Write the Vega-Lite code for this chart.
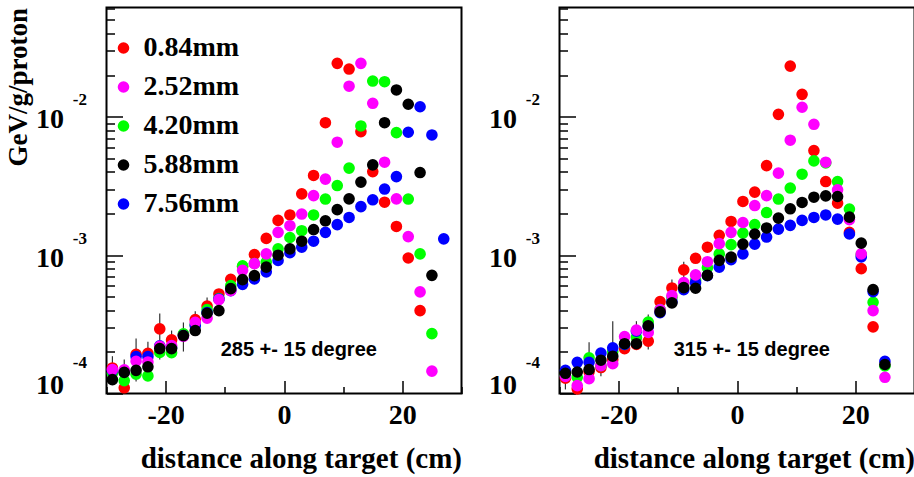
{
  "$schema": "https://vega.github.io/schema/vega-lite/v6.json",
  "background": "white",
  "padding": {"left": 2.5, "top": -3.5, "right": 0, "bottom": 0},
  "spacing": 24,
  "config": {
    "view": {"stroke": "black", "strokeWidth": 2},
    "font": "Liberation Serif"
  },
  "datasets": {
    "pts": [
      {"panel":"L","size":"0.84mm","x":-29,"y":1.53e-4},{"panel":"L","size":"0.84mm","x":-27,"y":1.10e-4},{"panel":"L","size":"0.84mm","x":-25,"y":1.92e-4},{"panel":"L","size":"0.84mm","x":-23,"y":1.95e-4},{"panel":"L","size":"0.84mm","x":-21,"y":2.93e-4},{"panel":"L","size":"0.84mm","x":-19,"y":2.44e-4},{"panel":"L","size":"0.84mm","x":-17,"y":2.67e-4},{"panel":"L","size":"0.84mm","x":-15,"y":3.42e-4},{"panel":"L","size":"0.84mm","x":-13,"y":4.28e-4},{"panel":"L","size":"0.84mm","x":-11,"y":5.24e-4},{"panel":"L","size":"0.84mm","x":-9,"y":6.68e-4},{"panel":"L","size":"0.84mm","x":-7,"y":8.25e-4},{"panel":"L","size":"0.84mm","x":-5,"y":1.01e-3},{"panel":"L","size":"0.84mm","x":-3,"y":1.32e-3},{"panel":"L","size":"0.84mm","x":-1,"y":1.78e-3},{"panel":"L","size":"0.84mm","x":1,"y":1.95e-3},{"panel":"L","size":"0.84mm","x":3,"y":2.77e-3},{"panel":"L","size":"0.84mm","x":5,"y":3.76e-3},{"panel":"L","size":"0.84mm","x":7,"y":9.05e-3},{"panel":"L","size":"0.84mm","x":9,"y":2.43e-2},{"panel":"L","size":"0.84mm","x":11,"y":2.21e-2},{"panel":"L","size":"0.84mm","x":13,"y":7.80e-3},{"panel":"L","size":"0.84mm","x":15,"y":4.01e-3},{"panel":"L","size":"0.84mm","x":17,"y":2.41e-3},{"panel":"L","size":"0.84mm","x":19,"y":1.61e-3},{"panel":"L","size":"0.84mm","x":21,"y":9.53e-4},{"panel":"L","size":"0.84mm","x":23,"y":3.97e-4},
      {"panel":"L","size":"4.20mm","x":-29,"y":1.40e-4},{"panel":"L","size":"4.20mm","x":-27,"y":1.24e-4},{"panel":"L","size":"4.20mm","x":-25,"y":1.38e-4},{"panel":"L","size":"4.20mm","x":-23,"y":1.34e-4},{"panel":"L","size":"4.20mm","x":-21,"y":1.98e-4},{"panel":"L","size":"4.20mm","x":-19,"y":1.97e-4},{"panel":"L","size":"4.20mm","x":-17,"y":2.70e-4},{"panel":"L","size":"4.20mm","x":-15,"y":3.15e-4},{"panel":"L","size":"4.20mm","x":-13,"y":4.04e-4},{"panel":"L","size":"4.20mm","x":-11,"y":4.85e-4},{"panel":"L","size":"4.20mm","x":-9,"y":6.02e-4},{"panel":"L","size":"4.20mm","x":-7,"y":8.35e-4},{"panel":"L","size":"4.20mm","x":-5,"y":8.70e-4},{"panel":"L","size":"4.20mm","x":-3,"y":8.90e-4},{"panel":"L","size":"4.20mm","x":-1,"y":1.11e-3},{"panel":"L","size":"4.20mm","x":1,"y":1.34e-3},{"panel":"L","size":"4.20mm","x":3,"y":1.50e-3},{"panel":"L","size":"4.20mm","x":5,"y":1.95e-3},{"panel":"L","size":"4.20mm","x":7,"y":2.54e-3},{"panel":"L","size":"4.20mm","x":9,"y":3.18e-3},{"panel":"L","size":"4.20mm","x":11,"y":4.25e-3},{"panel":"L","size":"4.20mm","x":13,"y":8.57e-3},{"panel":"L","size":"4.20mm","x":15,"y":1.81e-2},{"panel":"L","size":"4.20mm","x":17,"y":1.79e-2},{"panel":"L","size":"4.20mm","x":19,"y":7.67e-3},{"panel":"L","size":"4.20mm","x":21,"y":2.54e-3},{"panel":"L","size":"4.20mm","x":23,"y":1.02e-3},{"panel":"L","size":"4.20mm","x":25,"y":2.71e-4},
      {"panel":"L","size":"7.56mm","x":-29,"y":1.47e-4},{"panel":"L","size":"7.56mm","x":-27,"y":1.44e-4},{"panel":"L","size":"7.56mm","x":-25,"y":1.85e-4},{"panel":"L","size":"7.56mm","x":-23,"y":1.85e-4},{"panel":"L","size":"7.56mm","x":-21,"y":2.21e-4},{"panel":"L","size":"7.56mm","x":-19,"y":2.15e-4},{"panel":"L","size":"7.56mm","x":-17,"y":2.62e-4},{"panel":"L","size":"7.56mm","x":-15,"y":3.10e-4},{"panel":"L","size":"7.56mm","x":-13,"y":3.84e-4},{"panel":"L","size":"7.56mm","x":-11,"y":4.82e-4},{"panel":"L","size":"7.56mm","x":-9,"y":5.54e-4},{"panel":"L","size":"7.56mm","x":-7,"y":6.15e-4},{"panel":"L","size":"7.56mm","x":-5,"y":6.73e-4},{"panel":"L","size":"7.56mm","x":-3,"y":7.57e-4},{"panel":"L","size":"7.56mm","x":-1,"y":9.14e-4},{"panel":"L","size":"7.56mm","x":1,"y":1.04e-3},{"panel":"L","size":"7.56mm","x":3,"y":1.14e-3},{"panel":"L","size":"7.56mm","x":5,"y":1.26e-3},{"panel":"L","size":"7.56mm","x":7,"y":1.46e-3},{"panel":"L","size":"7.56mm","x":9,"y":1.66e-3},{"panel":"L","size":"7.56mm","x":11,"y":1.87e-3},{"panel":"L","size":"7.56mm","x":13,"y":2.24e-3},{"panel":"L","size":"7.56mm","x":15,"y":2.51e-3},{"panel":"L","size":"7.56mm","x":17,"y":3.00e-3},{"panel":"L","size":"7.56mm","x":19,"y":3.69e-3},{"panel":"L","size":"7.56mm","x":21,"y":7.72e-3},{"panel":"L","size":"7.56mm","x":23,"y":1.18e-2},{"panel":"L","size":"7.56mm","x":25,"y":7.38e-3},{"panel":"L","size":"7.56mm","x":27,"y":1.31e-3},
      {"panel":"L","size":"2.52mm","x":-29,"y":1.49e-4},{"panel":"L","size":"2.52mm","x":-27,"y":1.48e-4},{"panel":"L","size":"2.52mm","x":-25,"y":1.71e-4},{"panel":"L","size":"2.52mm","x":-23,"y":1.69e-4},{"panel":"L","size":"2.52mm","x":-21,"y":2.19e-4},{"panel":"L","size":"2.52mm","x":-19,"y":2.22e-4},{"panel":"L","size":"2.52mm","x":-17,"y":2.59e-4},{"panel":"L","size":"2.52mm","x":-15,"y":3.27e-4},{"panel":"L","size":"2.52mm","x":-13,"y":3.50e-4},{"panel":"L","size":"2.52mm","x":-11,"y":4.77e-4},{"panel":"L","size":"2.52mm","x":-9,"y":5.54e-4},{"panel":"L","size":"2.52mm","x":-7,"y":7.76e-4},{"panel":"L","size":"2.52mm","x":-5,"y":8.67e-4},{"panel":"L","size":"2.52mm","x":-3,"y":1.02e-3},{"panel":"L","size":"2.52mm","x":-1,"y":1.46e-3},{"panel":"L","size":"2.52mm","x":1,"y":1.63e-3},{"panel":"L","size":"2.52mm","x":3,"y":1.98e-3},{"panel":"L","size":"2.52mm","x":5,"y":2.69e-3},{"panel":"L","size":"2.52mm","x":7,"y":3.54e-3},{"panel":"L","size":"2.52mm","x":9,"y":6.54e-3},{"panel":"L","size":"2.52mm","x":11,"y":1.66e-2},{"panel":"L","size":"2.52mm","x":13,"y":2.43e-2},{"panel":"L","size":"2.52mm","x":15,"y":1.25e-2},{"panel":"L","size":"2.52mm","x":17,"y":4.69e-3},{"panel":"L","size":"2.52mm","x":19,"y":2.55e-3},{"panel":"L","size":"2.52mm","x":21,"y":1.36e-3},{"panel":"L","size":"2.52mm","x":23,"y":5.42e-4},{"panel":"L","size":"2.52mm","x":25,"y":1.45e-4},
      {"panel":"L","size":"5.88mm","x":-29,"y":1.26e-4},{"panel":"L","size":"5.88mm","x":-27,"y":1.42e-4},{"panel":"L","size":"5.88mm","x":-25,"y":1.47e-4},{"panel":"L","size":"5.88mm","x":-23,"y":1.56e-4},{"panel":"L","size":"5.88mm","x":-21,"y":2.11e-4},{"panel":"L","size":"5.88mm","x":-19,"y":2.11e-4},{"panel":"L","size":"5.88mm","x":-17,"y":2.62e-4},{"panel":"L","size":"5.88mm","x":-15,"y":2.85e-4},{"panel":"L","size":"5.88mm","x":-13,"y":3.80e-4},{"panel":"L","size":"5.88mm","x":-11,"y":3.97e-4},{"panel":"L","size":"5.88mm","x":-9,"y":5.72e-4},{"panel":"L","size":"5.88mm","x":-7,"y":6.65e-4},{"panel":"L","size":"5.88mm","x":-5,"y":7.10e-4},{"panel":"L","size":"5.88mm","x":-3,"y":8.18e-4},{"panel":"L","size":"5.88mm","x":-1,"y":9.98e-4},{"panel":"L","size":"5.88mm","x":1,"y":1.11e-3},{"panel":"L","size":"5.88mm","x":3,"y":1.26e-3},{"panel":"L","size":"5.88mm","x":5,"y":1.53e-3},{"panel":"L","size":"5.88mm","x":7,"y":1.77e-3},{"panel":"L","size":"5.88mm","x":9,"y":2.13e-3},{"panel":"L","size":"5.88mm","x":11,"y":2.55e-3},{"panel":"L","size":"5.88mm","x":13,"y":3.37e-3},{"panel":"L","size":"5.88mm","x":15,"y":4.49e-3},{"panel":"L","size":"5.88mm","x":17,"y":9.05e-3},{"panel":"L","size":"5.88mm","x":19,"y":1.56e-2},{"panel":"L","size":"5.88mm","x":21,"y":1.23e-2},{"panel":"L","size":"5.88mm","x":23,"y":3.95e-3},{"panel":"L","size":"5.88mm","x":25,"y":7.14e-4},
      {"panel":"R","size":"0.84mm","x":-29,"y":1.29e-4},{"panel":"R","size":"0.84mm","x":-27,"y":1.08e-4},{"panel":"R","size":"0.84mm","x":-25,"y":1.44e-4},{"panel":"R","size":"0.84mm","x":-23,"y":1.54e-4},{"panel":"R","size":"0.84mm","x":-21,"y":1.76e-4},{"panel":"R","size":"0.84mm","x":-19,"y":2.11e-4},{"panel":"R","size":"0.84mm","x":-17,"y":2.26e-4},{"panel":"R","size":"0.84mm","x":-15,"y":2.39e-4},{"panel":"R","size":"0.84mm","x":-13,"y":4.61e-4},{"panel":"R","size":"0.84mm","x":-11,"y":5.79e-4},{"panel":"R","size":"0.84mm","x":-9,"y":7.82e-4},{"panel":"R","size":"0.84mm","x":-7,"y":9.48e-4},{"panel":"R","size":"0.84mm","x":-5,"y":1.14e-3},{"panel":"R","size":"0.84mm","x":-3,"y":1.39e-3},{"panel":"R","size":"0.84mm","x":-1,"y":1.75e-3},{"panel":"R","size":"0.84mm","x":1,"y":2.44e-3},{"panel":"R","size":"0.84mm","x":3,"y":2.85e-3},{"panel":"R","size":"0.84mm","x":5,"y":4.43e-3},{"panel":"R","size":"0.84mm","x":7,"y":1.04e-2},{"panel":"R","size":"0.84mm","x":9,"y":2.32e-2},{"panel":"R","size":"0.84mm","x":11,"y":1.45e-2},{"panel":"R","size":"0.84mm","x":13,"y":5.69e-3},{"panel":"R","size":"0.84mm","x":15,"y":3.40e-3},{"panel":"R","size":"0.84mm","x":17,"y":2.37e-3},{"panel":"R","size":"0.84mm","x":19,"y":1.46e-3},{"panel":"R","size":"0.84mm","x":21,"y":7.98e-4},{"panel":"R","size":"0.84mm","x":23,"y":3.03e-4},
      {"panel":"R","size":"4.20mm","x":-29,"y":1.35e-4},{"panel":"R","size":"4.20mm","x":-27,"y":1.31e-4},{"panel":"R","size":"4.20mm","x":-25,"y":1.81e-4},{"panel":"R","size":"4.20mm","x":-23,"y":1.59e-4},{"panel":"R","size":"4.20mm","x":-21,"y":2.01e-4},{"panel":"R","size":"4.20mm","x":-19,"y":2.26e-4},{"panel":"R","size":"4.20mm","x":-17,"y":2.54e-4},{"panel":"R","size":"4.20mm","x":-15,"y":3.28e-4},{"panel":"R","size":"4.20mm","x":-13,"y":4.04e-4},{"panel":"R","size":"4.20mm","x":-11,"y":4.93e-4},{"panel":"R","size":"4.20mm","x":-9,"y":6.22e-4},{"panel":"R","size":"4.20mm","x":-7,"y":6.56e-4},{"panel":"R","size":"4.20mm","x":-5,"y":8.11e-4},{"panel":"R","size":"4.20mm","x":-3,"y":1.02e-3},{"panel":"R","size":"4.20mm","x":-1,"y":1.19e-3},{"panel":"R","size":"4.20mm","x":1,"y":1.44e-3},{"panel":"R","size":"4.20mm","x":3,"y":1.66e-3},{"panel":"R","size":"4.20mm","x":5,"y":2.03e-3},{"panel":"R","size":"4.20mm","x":7,"y":2.54e-3},{"panel":"R","size":"4.20mm","x":9,"y":3.05e-3},{"panel":"R","size":"4.20mm","x":11,"y":3.84e-3},{"panel":"R","size":"4.20mm","x":13,"y":4.79e-3},{"panel":"R","size":"4.20mm","x":15,"y":4.64e-3},{"panel":"R","size":"4.20mm","x":17,"y":3.40e-3},{"panel":"R","size":"4.20mm","x":19,"y":2.15e-3},{"panel":"R","size":"4.20mm","x":21,"y":1.01e-3},{"panel":"R","size":"4.20mm","x":23,"y":4.56e-4},{"panel":"R","size":"4.20mm","x":25,"y":1.58e-4},
      {"panel":"R","size":"7.56mm","x":-29,"y":1.47e-4},{"panel":"R","size":"7.56mm","x":-27,"y":1.68e-4},{"panel":"R","size":"7.56mm","x":-25,"y":1.68e-4},{"panel":"R","size":"7.56mm","x":-23,"y":1.96e-4},{"panel":"R","size":"7.56mm","x":-21,"y":2.14e-4},{"panel":"R","size":"7.56mm","x":-19,"y":2.26e-4},{"panel":"R","size":"7.56mm","x":-17,"y":2.82e-4},{"panel":"R","size":"7.56mm","x":-15,"y":3.05e-4},{"panel":"R","size":"7.56mm","x":-13,"y":3.84e-4},{"panel":"R","size":"7.56mm","x":-11,"y":4.61e-4},{"panel":"R","size":"7.56mm","x":-9,"y":5.63e-4},{"panel":"R","size":"7.56mm","x":-7,"y":6.32e-4},{"panel":"R","size":"7.56mm","x":-5,"y":7.10e-4},{"panel":"R","size":"7.56mm","x":-3,"y":8.18e-4},{"panel":"R","size":"7.56mm","x":-1,"y":9.27e-4},{"panel":"R","size":"7.56mm","x":1,"y":1.02e-3},{"panel":"R","size":"7.56mm","x":3,"y":1.20e-3},{"panel":"R","size":"7.56mm","x":5,"y":1.35e-3},{"panel":"R","size":"7.56mm","x":7,"y":1.54e-3},{"panel":"R","size":"7.56mm","x":9,"y":1.64e-3},{"panel":"R","size":"7.56mm","x":11,"y":1.78e-3},{"panel":"R","size":"7.56mm","x":13,"y":1.87e-3},{"panel":"R","size":"7.56mm","x":15,"y":1.95e-3},{"panel":"R","size":"7.56mm","x":17,"y":1.82e-3},{"panel":"R","size":"7.56mm","x":19,"y":1.42e-3},{"panel":"R","size":"7.56mm","x":21,"y":9.69e-4},{"panel":"R","size":"7.56mm","x":23,"y":5.45e-4},{"panel":"R","size":"7.56mm","x":25,"y":1.71e-4},
      {"panel":"R","size":"2.52mm","x":-29,"y":1.33e-4},{"panel":"R","size":"2.52mm","x":-27,"y":1.14e-4},{"panel":"R","size":"2.52mm","x":-25,"y":1.28e-4},{"panel":"R","size":"2.52mm","x":-23,"y":1.59e-4},{"panel":"R","size":"2.52mm","x":-21,"y":1.64e-4},{"panel":"R","size":"2.52mm","x":-19,"y":2.58e-4},{"panel":"R","size":"2.52mm","x":-17,"y":2.87e-4},{"panel":"R","size":"2.52mm","x":-15,"y":2.76e-4},{"panel":"R","size":"2.52mm","x":-13,"y":4.04e-4},{"panel":"R","size":"2.52mm","x":-11,"y":5.10e-4},{"panel":"R","size":"2.52mm","x":-9,"y":6.32e-4},{"panel":"R","size":"2.52mm","x":-7,"y":7.19e-4},{"panel":"R","size":"2.52mm","x":-5,"y":8.96e-4},{"panel":"R","size":"2.52mm","x":-3,"y":1.21e-3},{"panel":"R","size":"2.52mm","x":-1,"y":1.46e-3},{"panel":"R","size":"2.52mm","x":1,"y":1.72e-3},{"panel":"R","size":"2.52mm","x":3,"y":2.28e-3},{"panel":"R","size":"2.52mm","x":5,"y":2.69e-3},{"panel":"R","size":"2.52mm","x":7,"y":3.91e-3},{"panel":"R","size":"2.52mm","x":9,"y":6.76e-3},{"panel":"R","size":"2.52mm","x":11,"y":1.17e-2},{"panel":"R","size":"2.52mm","x":13,"y":8.81e-3},{"panel":"R","size":"2.52mm","x":15,"y":4.69e-3},{"panel":"R","size":"2.52mm","x":17,"y":2.96e-3},{"panel":"R","size":"2.52mm","x":19,"y":1.80e-3},{"panel":"R","size":"2.52mm","x":21,"y":1.02e-3},{"panel":"R","size":"2.52mm","x":23,"y":3.97e-4},{"panel":"R","size":"2.52mm","x":25,"y":1.31e-4},
      {"panel":"R","size":"5.88mm","x":-29,"y":1.40e-4},{"panel":"R","size":"5.88mm","x":-27,"y":1.43e-4},{"panel":"R","size":"5.88mm","x":-25,"y":1.49e-4},{"panel":"R","size":"5.88mm","x":-23,"y":1.74e-4},{"panel":"R","size":"5.88mm","x":-21,"y":1.86e-4},{"panel":"R","size":"5.88mm","x":-19,"y":2.29e-4},{"panel":"R","size":"5.88mm","x":-17,"y":2.29e-4},{"panel":"R","size":"5.88mm","x":-15,"y":3.08e-4},{"panel":"R","size":"5.88mm","x":-13,"y":3.89e-4},{"panel":"R","size":"5.88mm","x":-11,"y":4.52e-4},{"panel":"R","size":"5.88mm","x":-9,"y":5.82e-4},{"panel":"R","size":"5.88mm","x":-7,"y":5.76e-4},{"panel":"R","size":"5.88mm","x":-5,"y":7.13e-4},{"panel":"R","size":"5.88mm","x":-3,"y":9.16e-4},{"panel":"R","size":"5.88mm","x":-1,"y":9.66e-4},{"panel":"R","size":"5.88mm","x":1,"y":1.20e-3},{"panel":"R","size":"5.88mm","x":3,"y":1.42e-3},{"panel":"R","size":"5.88mm","x":5,"y":1.57e-3},{"panel":"R","size":"5.88mm","x":7,"y":1.85e-3},{"panel":"R","size":"5.88mm","x":9,"y":2.16e-3},{"panel":"R","size":"5.88mm","x":11,"y":2.40e-3},{"panel":"R","size":"5.88mm","x":13,"y":2.62e-3},{"panel":"R","size":"5.88mm","x":15,"y":2.68e-3},{"panel":"R","size":"5.88mm","x":17,"y":2.65e-3},{"panel":"R","size":"5.88mm","x":19,"y":1.88e-3},{"panel":"R","size":"5.88mm","x":21,"y":1.22e-3},{"panel":"R","size":"5.88mm","x":23,"y":5.63e-4},{"panel":"R","size":"5.88mm","x":25,"y":1.62e-4}
    ],
    "errs": [
      {"panel":"L","x":-29,"lo":1.16e-4,"hi":1.86e-4},{"panel":"L","x":-27,"lo":1.18e-4,"hi":1.76e-4},{"panel":"L","x":-25,"lo":1.22e-4,"hi":2.50e-4},{"panel":"L","x":-23,"lo":1.49e-4,"hi":2.37e-4},{"panel":"L","x":-21,"lo":1.76e-4,"hi":3.78e-4},{"panel":"L","x":-19,"lo":1.91e-4,"hi":2.85e-4},{"panel":"L","x":-17,"lo":2.01e-4,"hi":3.26e-4},{"panel":"L","x":-15,"lo":2.67e-4,"hi":3.93e-4},{"panel":"L","x":-13,"lo":3.26e-4,"hi":4.93e-4},
      {"panel":"R","x":-29,"lo":1.07e-4,"hi":1.59e-4},{"panel":"R","x":-27,"lo":1.04e-4,"hi":1.76e-4},{"panel":"R","x":-25,"lo":1.42e-4,"hi":2.35e-4},{"panel":"R","x":-23,"lo":1.33e-4,"hi":1.86e-4},{"panel":"R","x":-21,"lo":1.67e-4,"hi":3.33e-4},{"panel":"R","x":-17,"lo":2.08e-4,"hi":3.33e-4},{"panel":"R","x":-15,"lo":2.08e-4,"hi":3.72e-4},{"panel":"R","x":-13,"lo":3.61e-4,"hi":5.04e-4},{"panel":"R","x":-11,"lo":4.18e-4,"hi":6.65e-4},{"panel":"R","x":-9,"lo":5.92e-4,"hi":8.96e-4}
    ],
    "notes": [
      {"panel":"L","x":2.5,"y":2.07e-4,"label":"285 +- 15 degree"},
      {"panel":"R","x":2.5,"y":2.07e-4,"label":"315 +- 15 degree"}
    ]
  },
  "resolve": {"legend": {"color": "independent"}},
  "hconcat": [
    {
      "width": 355,
      "height": 386,
      "resolve": {"axis": {"y": "independent"}},
      "layer": [
        {
          "data": {"name": "errs"},
          "transform": [{"filter": "datum.panel == 'L'"}],
          "mark": {"type": "rule", "color": "#333333", "strokeWidth": 1.2},
          "encoding": {
            "x": {"field": "x", "type": "quantitative", "scale": {"domain": [-30, 30], "nice": false, "zero": false}},
            "y": {"field": "lo", "type": "quantitative", "scale": {"type": "log", "domain": [0.0001, 0.0615], "nice": false}, "axis": null},
            "y2": {"field": "hi"}
          }
        },
        {
          "data": {"name": "pts"},
          "transform": [{"filter": "datum.panel == 'L'"}],
          "mark": {"type": "circle", "size": 135, "opacity": 1},
          "encoding": {
            "x": {"field": "x", "type": "quantitative",
              "scale": {"domain": [-30, 30], "nice": false, "zero": false},
              "axis": {"values": [-30,-25,-20,-15,-10,-5,0,5,10,15,20,25,30], "grid": false, "domain": false,
                "labelExpr": "indexof([-20,0,20], datum.value) >= 0 ? (datum.value < 0 ? '-' + abs(datum.value) : '' + datum.value) : ''",
                "labelFont": "Liberation Serif", "labelFontSize": 28, "labelFontWeight": "bold", "labelColor": "black",
                "labelPadding": 21, "labelOverlap": false, "labelFlush": false,
                "tickSize": {"condition": {"test": "indexof([-20,0,20], datum.value) >= 0", "value": -13}, "value": -7},
                "tickColor": "black", "tickWidth": 1.5,
                "title": "distance along target (cm)", "titleAnchor": "end", "titleFont": "Liberation Serif", "titleFontSize": 29, "titleFontWeight": "bold", "titleColor": "black", "titlePadding": 9}},
            "y": {"field": "y", "type": "quantitative",
              "scale": {"type": "log", "domain": [0.0001, 0.0615], "nice": false},
              "axis": {"orient": "left", "values": [0.0001,0.0002,0.0003,0.0004,0.0005,0.0006,0.0007,0.0008,0.0009,0.001,0.002,0.003,0.004,0.005,0.006,0.007,0.008,0.009,0.01,0.02,0.03,0.04,0.05,0.06],
                "grid": false, "domain": false,
                "labelExpr": "indexof([0.0001,0.001,0.01], datum.value) >= 0 ? '10' : ''",
                "labelFont": "Liberation Serif", "labelFontSize": 28, "labelFontWeight": "bold", "labelColor": "black",
                "labelPadding": 59, "labelOverlap": false, "labelFlush": false,
                "labelOffset": {"condition": {"test": "datum.value < 0.0005", "value": -8}, "value": 3},
                "tickSize": {"condition": {"test": "indexof([0.0001,0.001,0.01], datum.value) >= 0", "value": -16}, "value": -8},
                "tickColor": "black", "tickWidth": 1.5,
                "title": "GeV/g/proton", "titleAnchor": "end", "titleFont": "Liberation Serif", "titleFontSize": 27, "titleFontWeight": "bold", "titleColor": "black", "titlePadding": 3}},
            "color": {"field": "size", "type": "nominal",
              "scale": {"domain": ["0.84mm","2.52mm","4.20mm","5.88mm","7.56mm"], "range": ["#ff0000","#ff00ff","#00ff00","#000000","#0000ff"]},
              "legend": {"orient": "none", "legendX": 3, "legendY": 26.5, "title": null, "padding": 0,
                "labelFont": "Liberation Serif", "labelFontSize": 28, "labelFontWeight": "bold", "labelColor": "black",
                "symbolType": "circle", "symbolSize": 135, "symbolStrokeWidth": 0, "symbolOpacity": 1,
                "rowPadding": 11, "labelOffset": 6}}
          }
        },
        {
          "data": {"name": "notes"},
          "transform": [{"filter": "datum.panel == 'L'"}],
          "mark": {"type": "text", "font": "Liberation Sans", "fontWeight": "bold", "fontSize": 20, "color": "black"},
          "encoding": {
            "x": {"field": "x", "type": "quantitative", "scale": {"domain": [-30, 30], "nice": false, "zero": false}},
            "y": {"field": "y", "type": "quantitative", "scale": {"type": "log", "domain": [0.0001, 0.0615], "nice": false},
              "axis": {"orient": "left", "values": [0.0001, 0.001, 0.01], "grid": false, "domain": false, "ticks": false, "title": null,
                "labelExpr": "datum.value < 0.0005 ? '-4' : (datum.value < 0.005 ? '-3' : '-2')",
                "labelFont": "Liberation Serif", "labelFontSize": 17, "labelFontWeight": "bold", "labelColor": "black",
                "labelPadding": 20, "labelOverlap": false, "labelFlush": false,
                "labelOffset": {"condition": {"test": "datum.value < 0.0005", "value": -31}, "value": -17}}},
            "text": {"field": "label"}
          }
        }
      ]
    },
    {
      "width": 355,
      "height": 386,
      "resolve": {"axis": {"y": "independent"}},
      "layer": [
        {
          "data": {"name": "errs"},
          "transform": [{"filter": "datum.panel == 'R'"}],
          "mark": {"type": "rule", "color": "#333333", "strokeWidth": 1.2},
          "encoding": {
            "x": {"field": "x", "type": "quantitative", "scale": {"domain": [-30, 30], "nice": false, "zero": false}},
            "y": {"field": "lo", "type": "quantitative", "scale": {"type": "log", "domain": [0.0001, 0.0615], "nice": false}, "axis": null},
            "y2": {"field": "hi"}
          }
        },
        {
          "data": {"name": "pts"},
          "transform": [{"filter": "datum.panel == 'R'"}],
          "mark": {"type": "circle", "size": 135, "opacity": 1},
          "encoding": {
            "x": {"field": "x", "type": "quantitative",
              "scale": {"domain": [-30, 30], "nice": false, "zero": false},
              "axis": {"values": [-30,-25,-20,-15,-10,-5,0,5,10,15,20,25,30], "grid": false, "domain": false,
                "labelExpr": "indexof([-20,0,20], datum.value) >= 0 ? (datum.value < 0 ? '-' + abs(datum.value) : '' + datum.value) : ''",
                "labelFont": "Liberation Serif", "labelFontSize": 28, "labelFontWeight": "bold", "labelColor": "black",
                "labelPadding": 21, "labelOverlap": false, "labelFlush": false,
                "tickSize": {"condition": {"test": "indexof([-20,0,20], datum.value) >= 0", "value": -13}, "value": -7},
                "tickColor": "black", "tickWidth": 1.5,
                "title": "distance along target (cm)", "titleAnchor": "end", "titleFont": "Liberation Serif", "titleFontSize": 29, "titleFontWeight": "bold", "titleColor": "black", "titlePadding": 9}},
            "y": {"field": "y", "type": "quantitative",
              "scale": {"type": "log", "domain": [0.0001, 0.0615], "nice": false},
              "axis": {"orient": "left", "values": [0.0001,0.0002,0.0003,0.0004,0.0005,0.0006,0.0007,0.0008,0.0009,0.001,0.002,0.003,0.004,0.005,0.006,0.007,0.008,0.009,0.01,0.02,0.03,0.04,0.05,0.06],
                "grid": false, "domain": false,
                "labelExpr": "indexof([0.0001,0.001,0.01], datum.value) >= 0 ? '10' : ''",
                "labelFont": "Liberation Serif", "labelFontSize": 28, "labelFontWeight": "bold", "labelColor": "black",
                "labelPadding": 59, "labelOverlap": false, "labelFlush": false,
                "labelOffset": {"condition": {"test": "datum.value < 0.0005", "value": -8}, "value": 3},
                "tickSize": {"condition": {"test": "indexof([0.0001,0.001,0.01], datum.value) >= 0", "value": -16}, "value": -8},
                "tickColor": "black", "tickWidth": 1.5,
                "title": null}},
            "color": {"field": "size", "type": "nominal",
              "scale": {"domain": ["0.84mm","2.52mm","4.20mm","5.88mm","7.56mm"], "range": ["#ff0000","#ff00ff","#00ff00","#000000","#0000ff"]},
              "legend": null}
          }
        },
        {
          "data": {"name": "notes"},
          "transform": [{"filter": "datum.panel == 'R'"}],
          "mark": {"type": "text", "font": "Liberation Sans", "fontWeight": "bold", "fontSize": 20, "color": "black"},
          "encoding": {
            "x": {"field": "x", "type": "quantitative", "scale": {"domain": [-30, 30], "nice": false, "zero": false}},
            "y": {"field": "y", "type": "quantitative", "scale": {"type": "log", "domain": [0.0001, 0.0615], "nice": false},
              "axis": {"orient": "left", "values": [0.0001, 0.001, 0.01], "grid": false, "domain": false, "ticks": false, "title": null,
                "labelExpr": "datum.value < 0.0005 ? '-4' : (datum.value < 0.005 ? '-3' : '-2')",
                "labelFont": "Liberation Serif", "labelFontSize": 17, "labelFontWeight": "bold", "labelColor": "black",
                "labelPadding": 20, "labelOverlap": false, "labelFlush": false,
                "labelOffset": {"condition": {"test": "datum.value < 0.0005", "value": -31}, "value": -17}}},
            "text": {"field": "label"}
          }
        }
      ]
    }
  ]
}
